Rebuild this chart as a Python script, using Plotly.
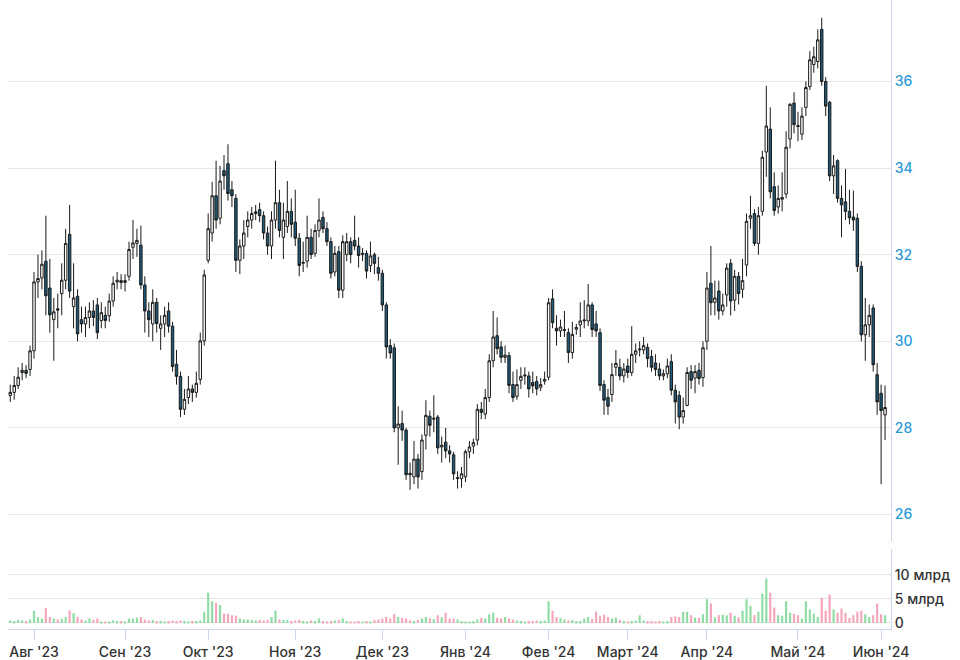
import pandas as pd
import plotly.graph_objects as go

# ---------------- data ----------------
opens = [28.75, 28.82, 28.98, 29.28, 29.33, 29.35, 29.78, 31.37, 31.46, 31.85,
         31.23, 30.5, 30.75, 31.1, 31.41, 32.47, 30.8, 31.04, 30.5, 30.4,
         30.55, 30.7, 30.84, 30.48, 30.6, 30.59, 30.93, 31.37, 31.4, 31.36,
         31.5, 32.17, 32.26, 32.22, 31.3, 30.7, 30.4, 30.9, 30.3, 30.4,
         30.7, 30.35, 29.47, 29.19, 28.43, 28.7, 28.9, 28.82, 29.12, 30.01,
         31.87, 32.5, 33.36, 32.84, 33.94, 34.1, 33.5, 33.3, 31.87, 32.2,
         32.65, 32.8, 32.95, 33.04, 32.9, 32.5, 32.2, 32.8, 33.2, 32.4,
         32.65, 33.0, 32.75, 32.38, 31.8, 31.85, 32.4, 32.03, 32.56, 32.86,
         32.6, 32.3, 31.6, 32.07, 31.18, 32.0, 32.3, 32.33, 32.2, 32.0,
         32.03, 31.75, 32.0, 31.7, 31.57, 30.84, 29.9, 29.85, 28.0, 28.1,
         27.95, 26.95, 26.87, 27.28, 26.99, 27.83, 28.27, 28.2, 28.25, 27.56,
         27.67, 27.47, 27.38, 26.83, 26.83, 26.87, 27.45, 27.58, 27.72, 28.43,
         28.32, 28.7, 29.55, 30.13, 29.87, 29.63, 29.67, 29.0, 28.73, 29.1,
         29.2, 29.2, 29.05, 29.07, 28.94, 29.08, 29.17, 30.98, 30.3, 30.24,
         30.25, 30.2, 29.74, 30.28, 30.38, 30.47, 30.47, 30.84, 30.4, 30.2,
         29.0, 28.7, 28.77, 29.4, 29.4, 29.2, 29.43, 29.28, 29.7, 29.8,
         29.8, 29.86, 29.65, 29.5, 29.36, 29.2, 29.25, 29.53, 28.87, 28.75,
         28.25, 28.52, 29.3, 29.15, 29.33, 29.16, 30.0, 31.34, 30.9, 31.16,
         30.7, 31.07, 31.8, 30.95, 31.5, 31.2, 31.76, 32.84, 32.95, 32.26,
         33.0, 34.37, 34.9, 33.57, 33.1, 33.28, 33.4, 34.67, 35.5, 34.98,
         34.78, 35.4, 35.88, 36.39, 36.46, 37.2, 36.0, 35.52, 33.82, 34.17,
         33.3, 33.22, 33.0, 32.87, 32.84, 31.73, 30.15, 30.38, 30.77, 29.23,
         28.8, 28.3]

closes = [28.82, 28.98, 29.17, 29.33, 29.26, 29.78, 31.37, 31.45, 31.78, 31.05,
          30.61, 30.68, 30.72, 31.41, 32.26, 31.16, 31.0, 30.17, 30.4, 30.55,
          30.7, 30.55, 30.2, 30.66, 30.48, 30.93, 31.34, 31.41, 31.36, 31.4,
          32.12, 32.27, 32.33, 31.3, 30.7, 30.5, 30.9, 30.41, 30.4, 30.6,
          30.35, 29.42, 29.19, 28.43, 28.66, 28.9, 28.82, 29.03, 30.01, 31.53,
          32.6, 33.36, 32.8, 33.7, 33.82, 33.41, 33.36, 31.87, 32.2, 32.5,
          32.8, 32.95, 32.99, 32.9, 32.5, 32.2, 32.8, 33.2, 32.56, 32.8,
          33.0, 32.7, 32.38, 31.75, 31.82, 32.4, 32.0, 32.56, 32.8, 32.6,
          32.3, 31.57, 32.03, 31.18, 32.3, 32.3, 32.0, 32.2, 31.98, 32.03,
          31.62, 31.97, 31.8, 31.57, 30.84, 29.87, 29.73, 28.0, 28.09, 27.95,
          26.92, 26.92, 27.28, 26.87, 27.72, 28.29, 28.06, 28.22, 27.54, 27.6,
          27.47, 27.4, 26.94, 26.85, 26.94, 27.45, 27.56, 27.66, 28.43, 28.36,
          28.7, 29.55, 30.1, 29.83, 29.63, 29.68, 28.98, 28.7, 29.0, 29.19,
          29.22, 28.9, 28.97, 28.9, 29.0, 29.12, 30.89, 30.43, 30.24, 30.33,
          30.27, 29.74, 30.16, 30.32, 30.47, 30.49, 30.84, 30.27, 30.24, 28.98,
          28.64, 28.5, 29.23, 29.49, 29.2, 29.36, 29.28, 29.7, 29.78, 29.82,
          29.9, 29.6, 29.4, 29.35, 29.2, 29.25, 29.43, 28.87, 28.6, 28.25,
          28.4, 29.28, 29.1, 29.3, 29.14, 29.85, 31.23, 30.89, 31.0, 30.7,
          30.84, 31.69, 30.93, 31.5, 31.1, 31.4, 32.77, 32.9, 32.26, 32.9,
          34.25, 34.97, 33.45, 33.02, 33.3, 33.32, 34.48, 35.47, 35.0, 34.96,
          35.2, 35.86, 36.5, 36.57, 36.96, 36.0, 35.43, 33.82, 34.05, 33.3,
          33.15, 33.0, 32.85, 32.8, 31.73, 30.15, 30.38, 30.6, 29.46, 28.6,
          28.4, 28.47]

highs = [29.0, 29.2, 29.4, 29.5, 29.45, 29.9, 31.6, 32.0, 32.1, 32.9,
         31.9, 31.0, 31.1, 31.8, 32.6, 33.15, 31.8, 31.2, 30.8, 30.8,
         30.9, 30.95, 31.0, 30.9, 30.8, 31.1, 31.5, 31.6, 31.55, 31.55,
         32.3, 32.8, 32.6, 32.67, 31.5, 30.9, 31.2, 31.0, 30.6, 30.8,
         30.9, 30.45, 29.8, 29.3, 28.9, 29.2, 29.0, 29.3, 30.2, 31.65,
         32.95, 33.68, 34.17, 34.05, 34.3, 34.55, 33.7, 33.4, 32.35, 32.8,
         33.0, 33.1, 33.15, 33.2, 33.0, 32.65, 33.0, 34.17, 33.5, 33.2,
         33.7, 33.3, 33.5, 32.5, 32.3, 32.9, 32.6, 32.7, 33.3, 33.0,
         32.75, 32.4, 32.2, 32.2, 32.45, 32.5, 32.4, 32.9, 32.4, 32.15,
         32.1, 32.3, 32.05, 31.95, 31.65, 30.9, 30.05, 29.95, 28.5, 28.4,
         28.0, 27.2, 27.7, 27.4, 27.85, 28.64, 28.4, 28.75, 28.3, 27.8,
         28.0, 27.6, 27.45, 27.0, 27.1, 27.5, 27.7, 27.75, 28.55, 28.6,
         28.9, 29.7, 30.7, 30.55, 30.0, 29.9, 29.75, 29.3, 29.35, 29.4,
         29.4, 29.3, 29.3, 29.2, 29.15, 29.3, 31.0, 31.2, 30.6, 30.5,
         30.7, 30.3, 30.45, 30.4, 30.9, 30.95, 31.32, 30.9, 30.7, 30.3,
         29.1, 28.9, 29.5, 29.8, 29.6, 29.5, 29.6, 30.35, 29.95, 30.0,
         30.1, 29.95, 29.8, 29.7, 29.5, 29.35, 29.6, 29.7, 29.0, 28.85,
         28.7, 29.4, 29.45, 29.45, 29.5, 30.0, 31.6, 32.2, 31.4, 31.4,
         31.1, 31.8, 31.9, 31.65, 31.6, 31.9, 32.95, 33.36, 33.05, 33.1,
         34.4, 35.9, 35.4, 33.9, 33.6, 33.9, 34.85, 35.5, 35.75, 35.3,
         35.4, 36.0, 36.7, 36.8, 37.2, 37.47, 36.1, 35.55, 34.3, 34.2,
         33.6, 33.98, 33.5, 33.48, 32.95, 31.85, 31.0, 30.85, 30.85, 29.5,
         29.0, 28.98]

lows = [28.6, 28.65, 28.9, 29.1, 29.15, 29.2, 29.6, 31.0, 31.2, 30.6,
        30.2, 29.55, 30.3, 30.6, 31.2, 31.0, 30.3, 30.0, 30.2, 30.1,
        30.3, 30.35, 30.05, 30.3, 30.3, 30.45, 30.8, 31.2, 31.2, 31.15,
        31.4, 31.9, 31.95, 31.2, 30.2, 30.1, 30.0, 30.2, 29.8, 30.1,
        30.2, 29.3, 29.0, 28.25, 28.3, 28.55, 28.6, 28.7, 29.0, 29.9,
        31.8, 32.3, 32.6, 32.7, 33.5, 33.25, 33.1, 31.6, 31.55, 31.9,
        32.4, 32.6, 32.8, 32.75, 32.35, 32.0, 31.9, 32.6, 32.4, 31.9,
        32.5, 32.4, 32.2, 31.5, 31.6, 31.7, 31.9, 31.95, 32.4, 32.5,
        32.2, 31.45, 31.5, 31.0, 31.0, 31.85, 31.8, 32.1, 31.7, 31.85,
        31.45, 31.6, 31.55, 31.4, 30.7, 29.6, 29.6, 27.9, 27.15, 27.7,
        26.8, 26.57, 26.7, 26.6, 26.8, 27.5, 27.8, 27.9, 27.4, 27.2,
        27.3, 27.2, 26.8, 26.6, 26.62, 26.75, 27.3, 27.4, 27.6, 28.2,
        28.2, 28.6, 29.4, 29.7, 29.5, 29.5, 28.8, 28.6, 28.65, 28.9,
        29.0, 28.7, 28.8, 28.75, 28.85, 29.0, 29.1, 30.3, 29.9, 30.1,
        30.1, 29.5, 29.6, 30.15, 30.1, 30.3, 30.35, 30.1, 30.1, 28.85,
        28.3, 28.3, 28.6, 29.2, 29.1, 29.05, 29.15, 29.2, 29.5, 29.65,
        29.7, 29.4, 29.3, 29.2, 29.1, 29.1, 29.15, 28.75, 28.1, 27.97,
        28.1, 28.5, 28.9, 28.8, 29.0, 28.95, 29.8, 30.6, 30.6, 30.5,
        30.6, 30.8, 30.6, 30.7, 30.85, 31.0, 31.5, 32.6, 32.2, 32.0,
        32.9, 33.8, 33.3, 32.9, 32.95, 33.0, 33.3, 34.45, 34.8, 34.62,
        34.65, 35.2, 35.8, 36.2, 36.3, 35.9, 35.2, 33.7, 33.4, 33.2,
        32.4, 32.8, 32.7, 32.55, 31.6, 30.0, 29.55, 30.1, 29.3, 28.3,
        26.7, 27.72]

volumes_bn = [0.5, 0.4, 0.6, 0.5, 0.4, 0.7, 2.5, 1.25, 0.9, 3.1,
              1.25, 0.9, 0.7, 0.9, 1.25, 2.6, 2.0, 1.25, 0.7, 0.5,
              0.9, 0.6, 0.9, 0.3, 0.3, 0.3, 0.55, 0.4, 0.4, 0.3,
              0.9, 0.9, 1.1, 1.25, 0.7, 0.5, 0.6, 0.4, 0.4, 0.3,
              0.4, 0.5, 0.4, 0.5, 0.4, 0.3, 0.4, 0.4, 0.5, 2.3,
              6.25, 4.5, 4.2, 3.7, 1.9, 1.9, 1.6, 1.5, 0.9, 0.7,
              0.7, 0.6, 0.5, 0.6, 0.5, 0.6, 1.25, 2.5, 0.7, 0.6,
              0.6, 0.4, 0.5, 0.6, 0.4, 0.3, 0.5, 0.4, 0.9, 0.4,
              0.3, 0.4, 0.5, 0.6, 0.9, 0.4, 0.3, 0.3, 0.4, 0.3,
              0.4, 0.3, 0.6, 0.7, 0.9, 1.25, 0.9, 1.8, 1.25, 1.1,
              0.9, 0.5, 0.4, 0.6, 0.9, 1.25, 0.9, 0.8, 1.6, 1.2,
              2.1, 0.9, 0.9, 0.7, 0.4, 0.3, 0.3, 0.4, 0.7, 1.1,
              0.9, 1.8, 2.1, 1.1, 0.9, 1.25, 0.9, 0.7, 0.5, 0.4,
              0.3, 0.4, 0.4, 0.5, 0.4, 0.5, 4.5, 2.5, 1.25, 1.0,
              0.7, 0.5, 0.6, 0.4, 0.4, 0.9, 1.25, 0.8, 2.3, 1.5,
              1.7, 1.25, 0.9, 1.1, 0.6, 0.4, 0.3, 0.4, 0.5, 1.6,
              0.5, 0.4, 0.4, 0.3, 0.4, 0.3, 0.4, 1.25, 1.4, 1.25,
              2.3, 2.3, 1.6, 1.1, 1.1, 1.8, 4.9, 4.0, 1.2, 1.6,
              1.7, 1.6, 2.1, 1.5, 1.2, 2.5, 4.9, 3.5, 1.6, 2.3,
              6.1, 9.2, 6.25, 3.2, 1.6, 1.5, 4.5, 2.1, 1.9, 1.6,
              0.9, 4.5, 2.8, 1.9, 1.25, 5.2, 2.5, 5.9, 2.8, 2.1,
              3.0, 2.1, 1.0, 1.6, 2.3, 2.5, 1.8, 1.25, 1.6, 4.0,
              1.8, 1.6]

holidays = ["2024-01-01", "2024-01-02", "2024-02-23", "2024-03-08",
            "2024-05-09", "2024-05-10"]
extra_days = ["2024-04-27"]

month_labels = ["Авг '23", "Сен '23", "Окт '23", "Ноя '23", "Дек '23", "Янв '24",
                "Фев '24", "Март '24", "Апр '24", "Май '24", "Июн '24"]

price_ticks = [26, 28, 30, 32, 34, 36]
volume_ticks = [0, 5, 10, 15]
volume_ticktext = ["0", "5 млрд", "10 млрд", ""]

# ---------------- dates ----------------
days = pd.bdate_range("2023-07-24", "2024-06-04")
days = days[~days.isin(pd.to_datetime(holidays))]
days = days.union(pd.to_datetime(extra_days))
dates = [d.strftime("%Y-%m-%d") for d in days]

tickvals = []
seen = set()
for d in dates:
    ym = d[:7]
    if ym not in seen:
        seen.add(ym)
        if ym != "2023-07":
            tickvals.append(d)

vol_colors = ["#8fdca4" if c >= o else "#f4a6ba" for o, c in zip(opens, closes)]

# ---------------- figure ----------------
fig = go.Figure()

fig.add_trace(go.Candlestick(
    x=dates, open=opens, high=highs, low=lows, close=closes,
    xaxis="x", yaxis="y",
    increasing=dict(fillcolor="#ffffff", line=dict(color="#1a1a1a", width=1)),
    decreasing=dict(fillcolor="#1d5b7c", line=dict(color="#1a1a1a", width=1)),
    whiskerwidth=0, showlegend=False, hoverinfo="skip",
))

fig.add_trace(go.Bar(
    x=dates, y=volumes_bn, xaxis="x2", yaxis="y2",
    marker=dict(color=vol_colors, line=dict(width=0)),
    showlegend=False, hoverinfo="skip",
))

label_font = dict(family="Inter, Roboto, sans-serif", size=14, color="#333333",
                  weight=500)
xr = [-0.57, 222.5]

fig.update_layout(
    width=960, height=660,
    margin=dict(l=8, r=69, t=0, b=26),
    paper_bgcolor="#ffffff", plot_bgcolor="#ffffff",
    bargap=0.45,
    boxgap=0.12,
    xaxis=dict(domain=[0, 1], anchor="y", type="category", range=xr,
               rangeslider=dict(visible=False), showticklabels=False,
               showgrid=False, zeroline=False, showline=False,
               matches="x2"),
    yaxis=dict(domain=[0.1393, 1], anchor="x", side="right",
               range=[25.38, 37.88], tickvals=price_ticks,
               showgrid=True, gridcolor="#e6e6e6", gridwidth=1,
               zeroline=False, showline=True, linecolor="#ccd6eb", linewidth=1,
               ticks="", tickfont=dict(family="Inter, Roboto, sans-serif",
                                       size=14, color="#2a9ad6", weight=500)),
    xaxis2=dict(domain=[0, 1], anchor="y2", type="category", range=xr,
                tickvals=tickvals, ticktext=month_labels,
                showgrid=False, zeroline=False,
                showline=True, linecolor="#ccd6eb", linewidth=1,
                ticks="outside", ticklen=10, tickcolor="#ccd6eb",
                tickfont=label_font, tickangle=0),
    yaxis2=dict(domain=[0, 0.1264], anchor="x2", side="right",
                range=[-1.25, 15.2], tickvals=volume_ticks,
                ticktext=volume_ticktext,
                showgrid=True, gridcolor="#e6e6e6", gridwidth=1,
                zeroline=False, showline=True, linecolor="#ccd6eb", linewidth=1,
                ticks="", tickfont=label_font),
)

fig.write_html("out.html",
               config={"displayModeBar": False},
               post_script="document.body.style.margin='0px';")
